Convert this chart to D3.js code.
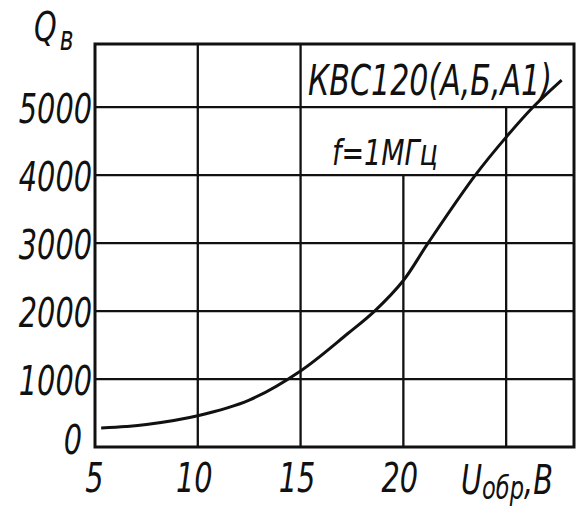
<!DOCTYPE html>
<html>
<head>
<meta charset="utf-8">
<script src="https://cdn.jsdelivr.net/npm/d3@7"></script>
<style>
  body { margin: 0; background: #fff; }
  text { font-family: "DejaVu Sans Condensed", "Liberation Sans Narrow", sans-serif; font-style: italic; fill: #111; }
</style>
</head>
<body>
<div id="chart"></div>
<script>
// data
var uValues = [5.3, 6.5, 7.5, 10, 12.5, 15, 17.3, 18.6, 20, 21.2, 23.5, 25, 26.3, 27.7];
var qValues = [280, 300, 330, 460, 690, 1120, 1670, 2000, 2450, 3000, 4000, 4560, 5000, 5400];
var xTicks = [5, 10, 15, 20];
var yTicks = [0, 1000, 2000, 3000, 4000, 5000];
var xGrid = [10, 15, 20, 25];
var yGrid = [1000, 2000, 3000, 4000, 5000];

var svgWidth = 579;
var svgHeight = 515;
var stretch = 1.3; // the scan's lettering is tall and narrow

var svg = d3.select("#chart")
  .append("svg")
  .attr("width", svgWidth)
  .attr("height", svgHeight);

var x = d3.scaleLinear().domain([5, 28.3]).range([95, 574]);
var y = d3.scaleLinear().domain([0, 5930]).range([447, 44]);

// horizontal grid
svg.selectAll(".hgrid")
  .data(yGrid)
  .enter()
  .append("line")
  .attr("x1", x(5))
  .attr("x2", x(28.3))
  .attr("y1", d => y(d))
  .attr("y2", d => y(d))
  .attr("stroke", "#111")
  .attr("stroke-width", 2.3);

// vertical grid, the ones at 20 and 25 stop under the labels
var vTop = { 10: 5930, 15: 5930, 20: 4000, 25: 5000 };
svg.selectAll(".vgrid")
  .data(xGrid)
  .enter()
  .append("line")
  .attr("x1", d => x(d))
  .attr("x2", d => x(d))
  .attr("y1", d => y(vTop[d]))
  .attr("y2", y(0))
  .attr("stroke", "#111")
  .attr("stroke-width", 2.3);

// frame
svg.append("rect")
  .attr("x", x(5))
  .attr("y", y(5930))
  .attr("width", x(28.3) - x(5))
  .attr("height", y(0) - y(5930))
  .attr("fill", "none")
  .attr("stroke", "#111")
  .attr("stroke-width", 3);

// curve
var line = d3.line()
  .x(d => x(d[0]))
  .y(d => y(d[1]))
  .curve(d3.curveCatmullRom.alpha(0.5));

svg.append("path")
  .datum(d3.zip(uValues, qValues))
  .attr("d", line)
  .attr("fill", "none")
  .attr("stroke", "#111")
  .attr("stroke-width", 3);

// axes (labels only)
var leftAxis = d3.axisLeft(y).tickValues(yTicks).tickSize(0).tickFormat(d3.format("d"));
var gy = svg.append("g").attr("transform", `translate(${x(5)}, 0)`).call(leftAxis);
gy.select(".domain").remove();
gy.selectAll("text")
  .attr("font-size", 32)
  .attr("font-family", null)
  .attr("x", d => d === 0 ? -13 : -3)
  .attr("y", d => d === 0 ? -8 / stretch : 0)
  .attr("dy", "0.36em")
  .attr("transform", `scale(1, ${stretch})`);

var bottomAxis = d3.axisBottom(x).tickValues(xTicks).tickSize(0);
var gx = svg.append("g").attr("transform", `translate(-4, ${y(0)})`).call(bottomAxis);
gx.select(".domain").remove();
gx.selectAll("text")
  .attr("font-size", 32)
  .attr("font-family", null)
  .attr("x", d => d === 5 ? 3 : 0)
  .attr("y", 45 / stretch)
  .attr("dy", 0)
  .attr("transform", `scale(1, ${stretch})`);

// axis titles
var qt = svg.append("text")
  .attr("transform", `translate(34, 41) scale(1, ${stretch})`)
  .attr("font-size", 32);
qt.append("tspan").text("Q");
qt.append("tspan").attr("font-size", 26).attr("dy", 7).attr("dx", 3).text("в");

var ut = svg.append("text")
  .attr("transform", `translate(461, 494) scale(1, ${stretch})`)
  .attr("font-size", 32);
ut.append("tspan").text("U");
ut.append("tspan").attr("font-size", 25).attr("dy", 4).text("обр");
ut.append("tspan").attr("dy", -4).text(",В");

// device name and frequency
svg.append("text")
  .attr("transform", `translate(308, 95) scale(1, 1.25)`)
  .attr("font-size", 34)
  .attr("textLength", 244)
  .attr("lengthAdjust", "spacingAndGlyphs")
  .text("КВС120(А,Б,А1)");

svg.append("text")
  .attr("transform", `translate(332, 165) scale(1, 1.25)`)
  .attr("font-size", 28)
  .attr("textLength", 106)
  .attr("lengthAdjust", "spacingAndGlyphs")
  .text("f=1МГц");
</script>
</body>
</html>
